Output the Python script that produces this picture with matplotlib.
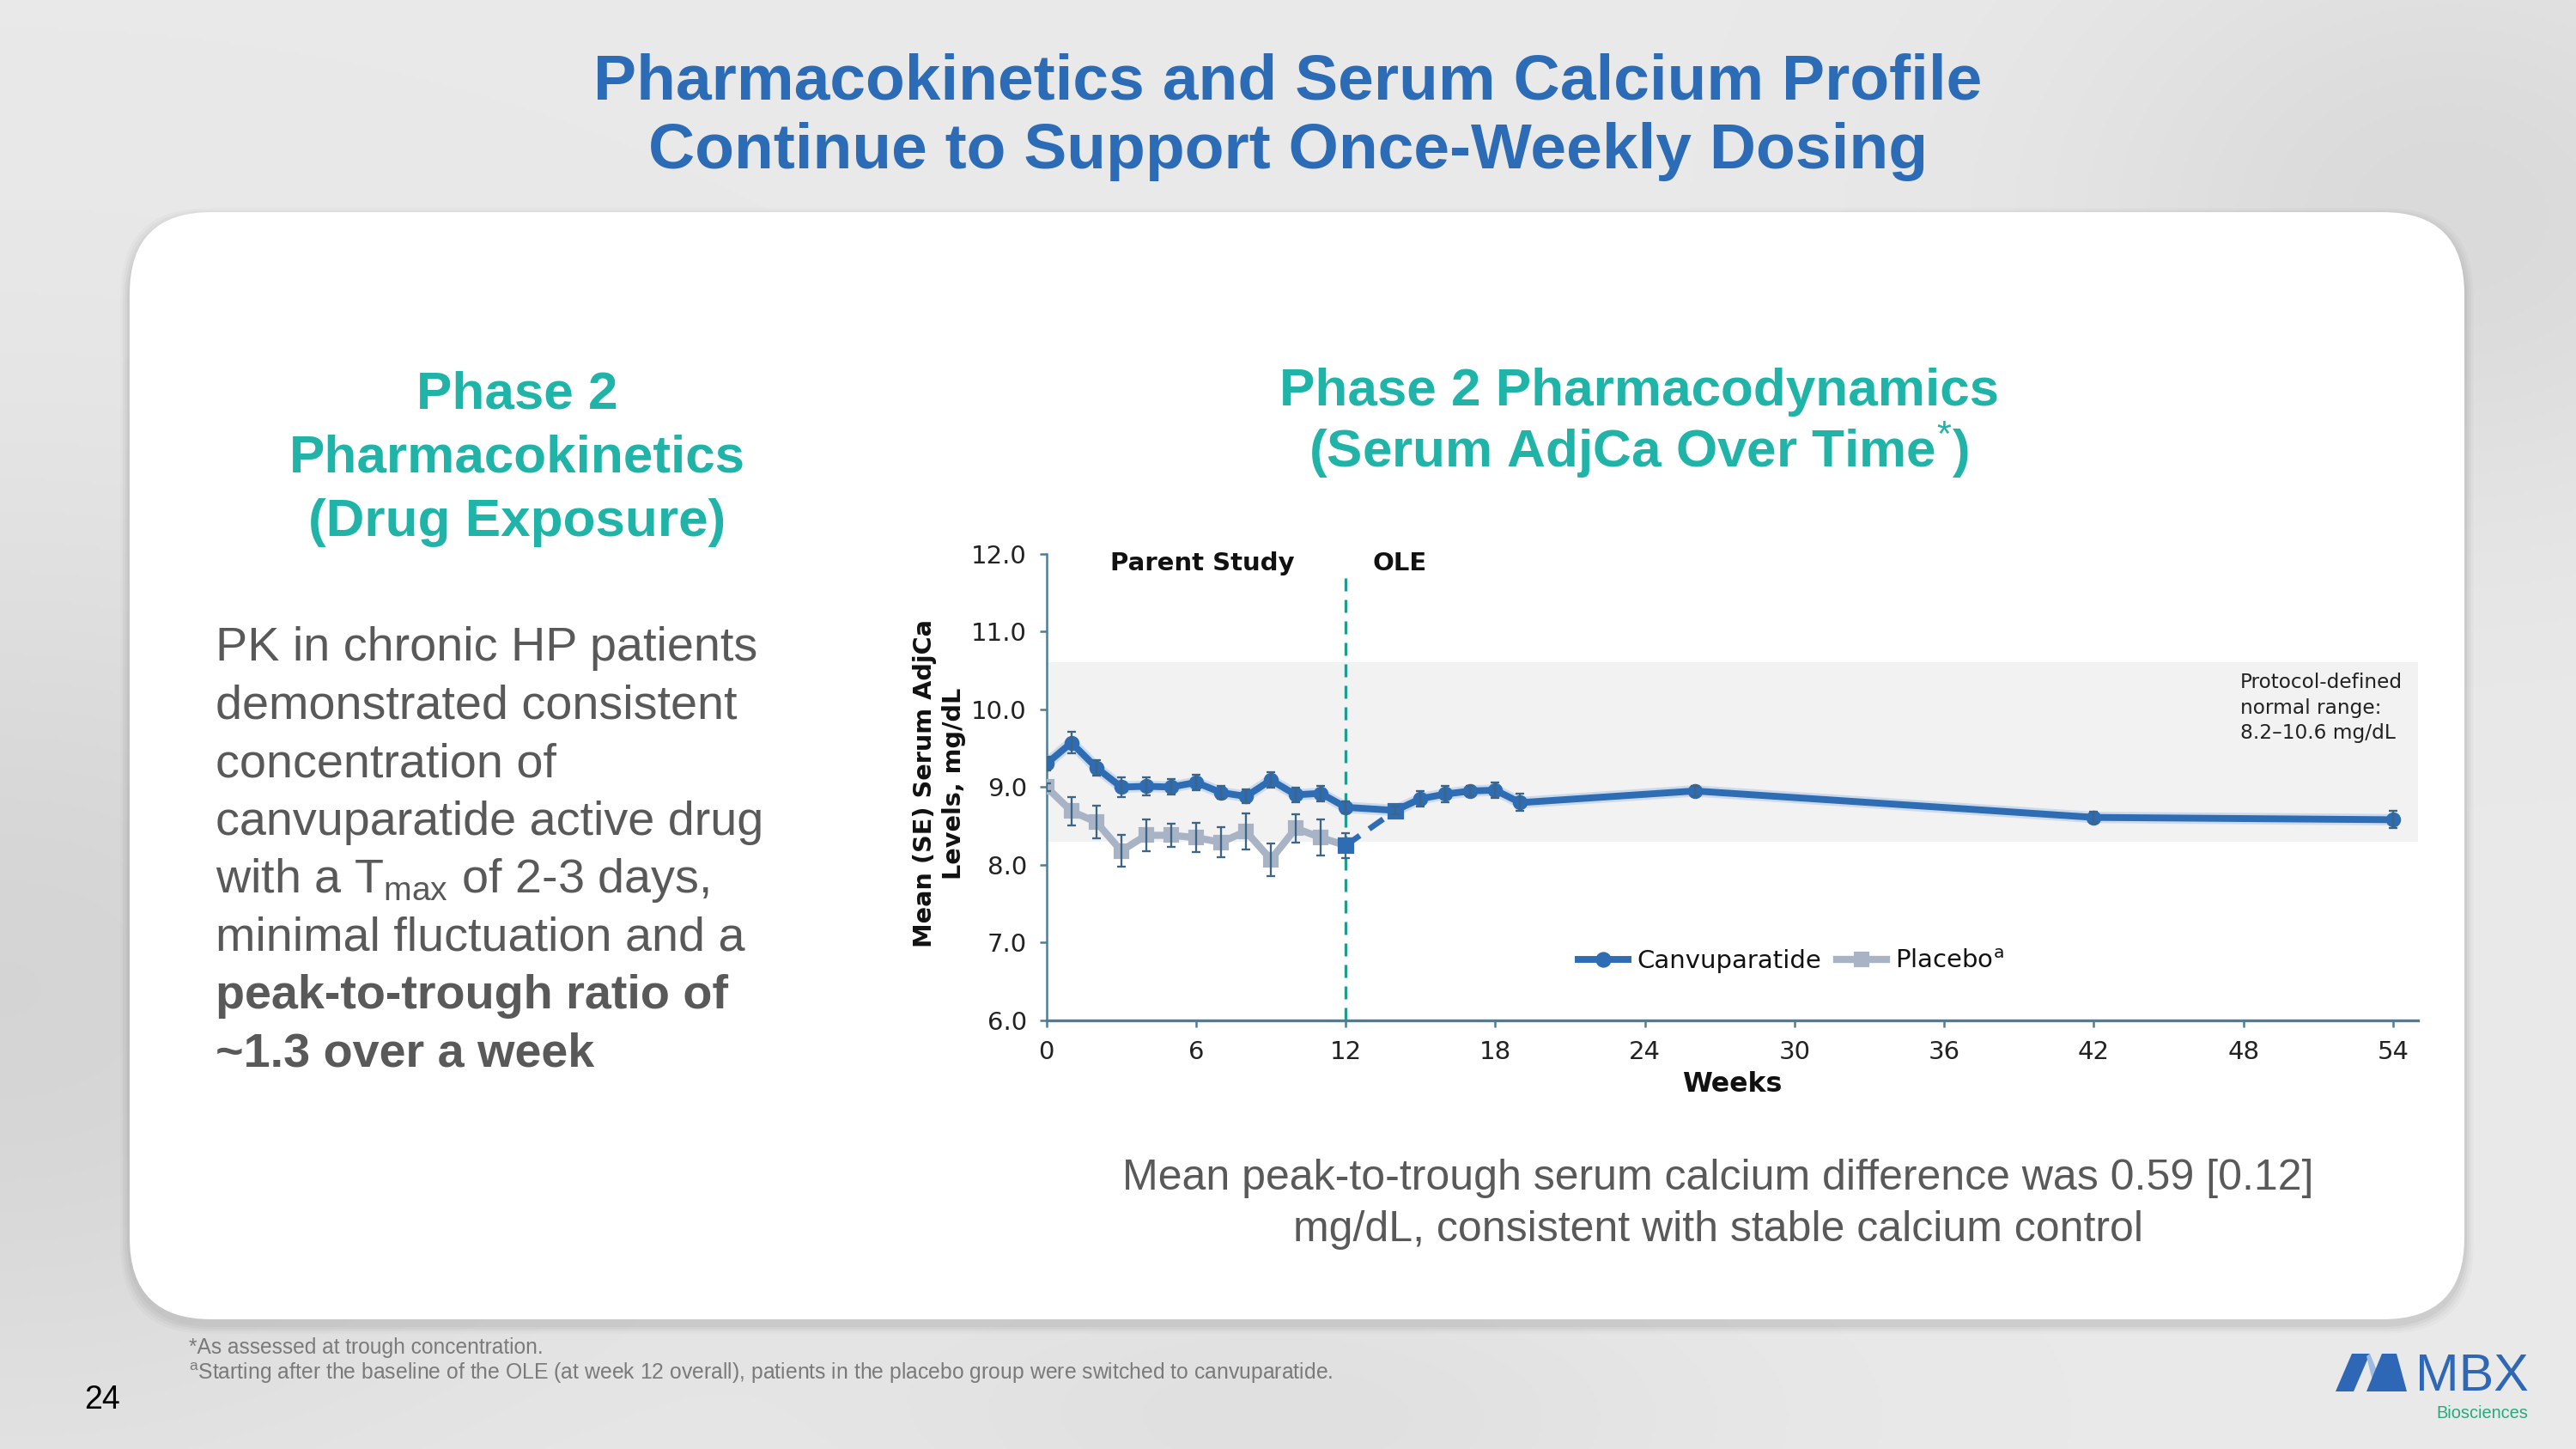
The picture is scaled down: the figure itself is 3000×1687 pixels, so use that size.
import numpy as np
import matplotlib
matplotlib.use("Agg")
import matplotlib.pyplot as plt
from matplotlib.patches import FancyBboxPatch, Polygon
from matplotlib.lines import Line2D

# ---------------- data ----------------
canv_weeks = [0, 1, 2, 3, 4, 5, 6, 7, 8, 9, 10, 11, 12, 14, 15, 16, 17, 18, 19, 26, 42, 54]
canv_vals = [9.30, 9.57, 9.25, 9.00, 9.01, 9.00, 9.06, 8.93, 8.88, 9.09, 8.90, 8.92, 8.74,
             8.70, 8.85, 8.91, 8.95, 8.96, 8.80, 8.95, 8.61, 8.58]
canv_se = [0.09, 0.14, 0.10, 0.13, 0.12, 0.10, 0.10, 0.08, 0.09, 0.10, 0.09, 0.10, 0.08,
           0.05, 0.10, 0.11, 0.07, 0.10, 0.11, 0.07, 0.07, 0.11]

pbo_weeks = [0, 1, 2, 3, 4, 5, 6, 7, 8, 9, 10, 11, 12]
pbo_vals = [9.00, 8.69, 8.55, 8.18, 8.38, 8.38, 8.35, 8.29, 8.43, 8.07, 8.47, 8.35, 8.25]
pbo_se = [0.05, 0.18, 0.21, 0.20, 0.20, 0.15, 0.19, 0.19, 0.23, 0.21, 0.18, 0.235, 0.16]

switch_weeks = [12, 14]
switch_vals = [8.25, 8.70]

normal_range = [8.3, 10.6]
x_ticks = [0, 6, 12, 18, 24, 30, 36, 42, 48, 54]
y_ticks = [6.0, 7.0, 8.0, 9.0, 10.0, 11.0, 12.0]
ole_start = 12

body_lines = [
    ("PK in chronic HP patients", "normal"),
    ("demonstrated consistent", "normal"),
    ("concentration of", "normal"),
    ("canvuparatide active drug", "normal"),
    ("with a T$_{\\mathregular{max}}$ of 2-3 days,", "normal"),
    ("minimal fluctuation and a", "normal"),
    ("peak\u2010to\u2010trough ratio of", "bold"),
    ("~1.3 over a week", "bold"),
]

# ---------------- style ----------------
BLUE = "#2C6BB6"
TEAL = "#1FB4A7"
GRAY_TXT = "#595959"
CANV = "#2E6CB3"
PBO = "#A8B4C6"
ERR = "#3F6585"
AXC = "#4F7E94"
SANS = ["Liberation Sans", "DejaVu Sans"]
NARROW = ["Liberation Sans Narrow", "DejaVu Sans"]

plt.rcParams["font.family"] = SANS
plt.rcParams["mathtext.fontset"] = "custom"
plt.rcParams["mathtext.rm"] = "Liberation Sans"

W, H = 3000, 1687
fig = plt.figure(figsize=(10, H / 300), dpi=300)

# background axes in pixel coordinates
bg = fig.add_axes([0, 0, 1, 1], zorder=0)
bg.set_xlim(0, W)
bg.set_ylim(H, 0)
bg.axis("off")

yy, xx = np.mgrid[0:H:4, 0:W:4]
base = 0.915 + 0.0 * xx
base -= 0.08 * np.exp(-(((xx - 0) / 750.0) ** 2 + ((yy - 1150) / 550.0) ** 2))
base -= 0.06 * np.exp(-(((xx - 2850) / 450.0) ** 2 + ((yy - 250) / 350.0) ** 2))
base -= 0.035 * np.exp(-(((xx - 1500) / 500.0) ** 2 + ((yy - 1650) / 200.0) ** 2))
img = np.dstack([base, base, base])
bg.imshow(img, extent=[0, W, H, 0], aspect="auto", zorder=0)

# white rounded panel with faint shadow
for i, a in enumerate([0.035, 0.03, 0.025, 0.02]):
    off = 6 + i * 5
    sh = FancyBboxPatch((151 - off / 2, 247 - off / 2 + 6), 2719 + off, 1289 + off,
                        boxstyle="round,pad=0,rounding_size=100", fc="black",
                        ec="none", alpha=a, zorder=1)
    bg.add_patch(sh)
panel = FancyBboxPatch((151, 247), 2719, 1289, boxstyle="round,pad=0,rounding_size=95",
                       fc="white", ec="none", zorder=2)
bg.add_patch(panel)

# title
bg.text(1500, 115, "Pharmacokinetics and Serum Calcium Profile", ha="center", va="baseline",
        fontsize=18.0, fontweight="bold", color=BLUE, zorder=5)
bg.text(1500, 196, "Continue to Support Once-Weekly Dosing", ha="center", va="baseline",
        fontsize=18.0, fontweight="bold", color=BLUE, zorder=5)

# left header
for txt, yb in [("Phase 2", 475), ("Pharmacokinetics", 550), ("(Drug Exposure)", 624)]:
    bg.text(602, yb, txt, ha="center", va="baseline", fontsize=14.9,
            fontweight="bold", color=TEAL, zorder=5)

# right header
bg.text(1909, 472, "Phase 2 Pharmacodynamics", ha="center", va="baseline", fontsize=14.9,
        fontweight="bold", color=TEAL, zorder=5)
bg.text(1909, 544, "(Serum AdjCa Over Time$^{*}$)", ha="center", va="baseline", fontsize=14.9,
        fontweight="bold", color=TEAL, zorder=5)

# body text
for i, (txt, wt) in enumerate(body_lines):
    bg.text(251, 769 + i * 67.5, txt, ha="left", va="baseline", fontsize=13.4,
            fontweight=wt, color=GRAY_TXT, zorder=5)

# caption
bg.text(2001, 1385, "Mean peak-to-trough serum calcium difference was 0.59 [0.12]",
        ha="center", va="baseline", fontsize=12.0, color=GRAY_TXT, zorder=5)
bg.text(2001, 1445, "mg/dL, consistent with stable calcium control",
        ha="center", va="baseline", fontsize=12.0, color=GRAY_TXT, zorder=5)

# footnotes
bg.text(220, 1576, "*As assessed at trough concentration.", ha="left", va="baseline",
        fontsize=5.9, color="#7a7a7a", zorder=5)
bg.text(220, 1606, "$^{\\mathregular{a}}$Starting after the baseline of the OLE (at week 12 overall), "
        "patients in the placebo group were switched to canvuparatide.", ha="left",
        va="baseline", fontsize=5.95, color="#7a7a7a", zorder=5)
bg.text(98, 1640, "24", ha="left", va="baseline", fontsize=9, color="black", zorder=5)

# logo
dark = "#2D67B5"
light = "#9DBBE0"
bg.add_patch(Polygon([(2720, 1620), (2739, 1576), (2760, 1576), (2741, 1620)], closed=True,
                     fc=dark, ec="none", zorder=5))
bg.add_patch(Polygon([(2756, 1579), (2760, 1576), (2778, 1620), (2766, 1620)], closed=True,
                     fc=light, ec="none", zorder=5))
bg.add_patch(Polygon([(2756, 1620), (2774, 1576), (2791, 1576), (2803, 1620)], closed=True,
                     fc=dark, ec="none", zorder=5))
bg.text(2813, 1619, "MBX", ha="left", va="baseline", fontsize=14.6, color=dark, zorder=5)
bg.text(2944, 1651, "Biosciences", ha="right", va="baseline", fontsize=4.8,
        color="#2AA77E", zorder=5)

# ---------------- chart ----------------
x0, x1 = 1218.7, 2816.0
ybot, ytop = 1188.0, 644.7
ax = fig.add_axes([x0 / W, 1 - ybot / H, (x1 - x0) / W, (ybot - ytop) / H], zorder=3)
ax.patch.set_alpha(0)
ax.set_xlim(0, 55)
ax.set_ylim(6, 12)

ax.axhspan(normal_range[0], normal_range[1], color="#F2F2F2", zorder=0, lw=0)

ax.axvline(ole_start, ymin=0, ymax=(11.76 - 6) / 6, color="#1E9C8E", lw=0.8,
           dashes=(4.5, 3.0), zorder=2)

# placebo
ax.plot(pbo_weeks, pbo_vals, color=PBO, lw=2.0, marker="s", ms=3.2, mfc=PBO, mec=PBO,
        zorder=3, solid_joinstyle="round")
ax.errorbar(pbo_weeks, pbo_vals, yerr=pbo_se, fmt="none", ecolor=ERR, elinewidth=0.55,
            capsize=1.3, capthick=0.55, zorder=4)

# switch dashed
ax.plot(switch_weeks, switch_vals, color=CANV, lw=1.6, dashes=(3.0, 2.0), zorder=5)
ax.plot(switch_weeks, switch_vals, ls="none", marker="s", ms=3.6, color=CANV, zorder=6)

# canvuparatide
ax.plot(canv_weeks, canv_vals, color="#B5CBE8", lw=3.2, alpha=0.6, zorder=4,
        solid_joinstyle="round")
ax.plot(canv_weeks, canv_vals, color=CANV, lw=1.9, marker="o", ms=3.2, mfc=CANV, mec=CANV,
        zorder=5, solid_joinstyle="round")
ax.errorbar(canv_weeks, canv_vals, yerr=canv_se, fmt="none", ecolor=ERR, elinewidth=0.55,
            capsize=1.3, capthick=0.55, zorder=6)

# axes styling
for s in ["top", "right"]:
    ax.spines[s].set_visible(False)
ax.spines["left"].set_color(AXC)
ax.spines["left"].set_linewidth(0.6)
ax.spines["bottom"].set_color(AXC)
ax.spines["bottom"].set_linewidth(0.8)
ax.set_xticks(x_ticks)
ax.set_yticks(y_ticks)
ax.set_yticklabels([f"{v:.1f}" for v in y_ticks])
ax.tick_params(axis="both", colors=AXC, labelcolor="#222222", labelsize=7.0,
               length=2.0, width=0.6, pad=3.5, direction="out")
for lab in ax.get_xticklabels() + ax.get_yticklabels():
    lab.set_family(NARROW)

ax.text(0.5, -0.138, "Weeks", transform=ax.transAxes, ha="center", va="center",
        fontsize=7.6, fontweight="bold", family=NARROW, color="#111111")
ax.text(-0.078, 0.508, "Mean (SE) Serum AdjCa\nLevels, mg/dL", transform=ax.transAxes,
        rotation=90, ha="center", va="center", multialignment="center",
        fontsize=6.9, fontweight="bold", family=["DejaVu Sans"], color="#111111",
        linespacing=1.25)

ax.text(6.24, 11.875, "Parent Study", ha="center", va="center", fontsize=7.0,
        fontweight="bold", family=NARROW, color="#111111")
ax.text(14.16, 11.875, "OLE", ha="center", va="center", fontsize=7.0,
        fontweight="bold", family=NARROW, color="#111111")

ax.text(47.87, 10.47, "Protocol-defined\nnormal range:\n8.2\u201310.6 mg/dL", ha="left",
        va="top", fontsize=5.6, family=["DejaVu Sans"], color="#222222", linespacing=1.35)

h1 = Line2D([], [], color=CANV, lw=1.9, marker="o", ms=3.4)
h2 = Line2D([], [], color=PBO, lw=2.0, marker="s", ms=3.4)
leg = ax.legend([h1, h2], ["Canvuparatide", "Placebo$^{\\mathregular{a}}$"], loc="center",
                bbox_to_anchor=(0.543, 0.127), ncol=2, frameon=False, handlelength=2.0,
                handletextpad=0.35, columnspacing=0.6,
                prop={"family": NARROW, "size": 7.0})
for t in leg.get_texts():
    t.set_color("#111111")

fig.savefig("out.png", dpi=300)
